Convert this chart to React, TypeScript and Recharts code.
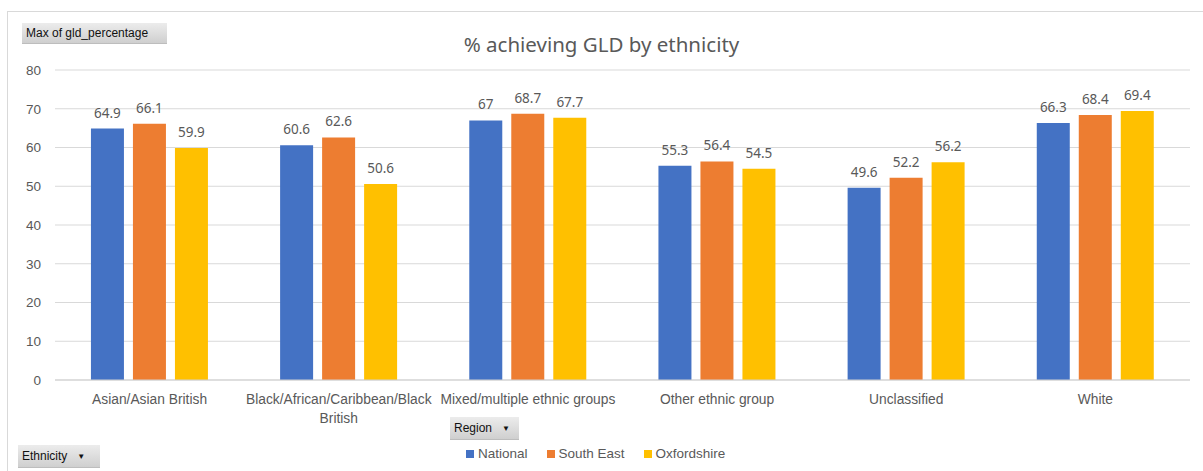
import React from "react";
import { BarChart, Bar, XAxis, YAxis, CartesianGrid, LabelList } from "recharts";

const categories = [
  "Asian/Asian British",
  "Black/African/Caribbean/Black British",
  "Mixed/multiple ethnic groups",
  "Other ethnic group",
  "Unclassified",
  "White",
];
const national = [64.9, 60.6, 67, 55.3, 49.6, 66.3];
const southEast = [66.1, 62.6, 68.7, 56.4, 52.2, 68.4];
const oxfordshire = [59.9, 50.6, 67.7, 54.5, 56.2, 69.4];
const yTicks = [0, 10, 20, 30, 40, 50, 60, 70, 80];

const series = [
  { key: "National", color: "#4472C4" },
  { key: "South East", color: "#ED7D31" },
  { key: "Oxfordshire", color: "#FFC000" },
];

const data = categories.map((c, i) => ({
  ethnicity: c,
  National: national[i],
  "South East": southEast[i],
  Oxfordshire: oxfordshire[i],
}));

const FONT = "'Liberation Sans', Arial, sans-serif";
const WIDE = "'Noto Sans', 'Open Sans', sans-serif";
const TEXT = "#595959";

// splits long labels into lines of about 30 chars
const wrap = (s: string, max = 30) => {
  const lines: string[] = [];
  let cur = "";
  s.split(" ").forEach((w) => {
    const next = cur ? cur + " " + w : w;
    if (next.length > max && cur) {
      lines.push(cur);
      cur = w;
    } else cur = next;
  });
  if (cur) lines.push(cur);
  return lines;
};

const CategoryTick = (props: any) => {
  const { x, y, payload } = props;
  const lines = wrap(String(payload.value));
  return (
    <text x={x} y={y} textAnchor="middle" fill={TEXT} fontSize={13.8} fontFamily={FONT}>
      {lines.map((l, i) => (
        <tspan key={i} x={x} dy={i === 0 ? 16 : 18.5}>
          {l}
        </tspan>
      ))}
    </text>
  );
};

const pivotButton: React.CSSProperties = {
  position: "absolute",
  background: "linear-gradient(#ececec, #cfcfcf)",
  borderBottom: "1px solid #bdbdbd",
  fontFamily: FONT,
  fontSize: 12,
  color: "#111",
  boxSizing: "border-box",
  display: "flex",
  alignItems: "center",
  paddingLeft: 4,
};

export default function App() {
  return (
    <div style={{ position: "absolute", left: 0, top: 0, width: 1203, height: 471, background: "#fff" }}>
      {/* chart frame */}
      <div style={{ position: "absolute", left: 7, top: 11, width: 1196, height: 460, borderLeft: "1px solid #d9d9d9", borderTop: "1px solid #d9d9d9" }} />
      <div style={{ position: "absolute", left: 0, top: 30, width: 1203, textAlign: "center", fontFamily: WIDE, fontSize: 20.5, color: TEXT }}>
        % achieving GLD by ethnicity
      </div>
      <BarChart
        width={1203}
        height={471}
        data={data}
        margin={{ top: 70, right: 13, left: 0, bottom: 61 }}
        barGap={9}
        barCategoryGap="19%"
        style={{ position: "absolute", left: 0, top: 0 }}
      >
        <CartesianGrid vertical={false} stroke="#d9d9d9" />
        <XAxis
          dataKey="ethnicity"
          tick={<CategoryTick />}
          tickLine={false}
          axisLine={{ stroke: "#d0d0d0" }}
          interval={0}
          height={30}
        />
        <YAxis
          domain={[0, 80]}
          ticks={yTicks}
          width={55}
          tickLine={false}
          axisLine={false}
          tickSize={0}
          tickMargin={14}
          tick={{ fill: TEXT, fontSize: 13.5, fontFamily: FONT }}
        />
        {series.map((s) => (
          <Bar key={s.key} dataKey={s.key} fill={s.color} isAnimationActive={false}>
            <LabelList dataKey={s.key} position="top" offset={11} fill={TEXT} fontSize={13.5} fontFamily={WIDE} />
          </Bar>
        ))}
      </BarChart>
      <div style={{ ...pivotButton, left: 22, top: 23, width: 145, height: 21 }}>Max of gld_percentage</div>
      <div style={{ ...pivotButton, left: 450, top: 417, width: 69, height: 23 }}>
        Region <span style={{ fontSize: 8, marginLeft: 10 }}>▼</span>
      </div>
      <div style={{ ...pivotButton, left: 18, top: 445, width: 82, height: 23 }}>
        Ethnicity <span style={{ fontSize: 8, marginLeft: 10 }}>▼</span>
      </div>
      <div style={{ position: "absolute", left: 466, top: 446, display: "flex", fontFamily: FONT, fontSize: 13.5, color: TEXT }}>
        {series.map((s) => (
          <div key={s.key} style={{ display: "flex", alignItems: "center", marginRight: 19 }}>
            <span style={{ width: 8, height: 8, background: s.color, display: "inline-block", marginRight: 4 }} />
            {s.key}
          </div>
        ))}
      </div>
    </div>
  );
}
